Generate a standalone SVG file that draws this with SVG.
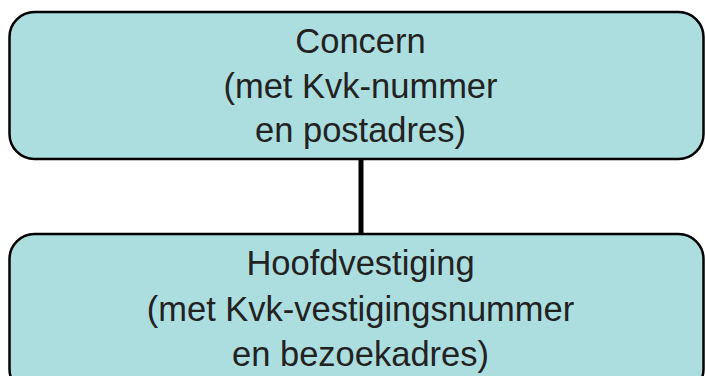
<svg xmlns="http://www.w3.org/2000/svg" width="705" height="376" viewBox="0 0 705 376">
<style>
.box{fill:#ADDEDF;stroke:#000;stroke-width:2.5}
.t{font-family:"Liberation Sans",Arial,sans-serif;font-size:34.5px;fill:#222;text-anchor:middle}
</style>
<rect width="705" height="376" fill="#fff"/>
<g id="connectors">
<line x1="361" y1="159" x2="361" y2="234" stroke="#000" stroke-width="5"/>
</g>
<g id="concern">
<rect class="box" x="9.5" y="12" width="694" height="147" rx="25"/>
<text class="t" x="360.5" y="53">Concern</text>
<text class="t" x="360.5" y="98">(met Kvk-nummer</text>
<text class="t" x="360.5" y="142">en postadres)</text>
</g>
<g id="hoofdvestiging">
<rect class="box" x="9.5" y="234" width="694" height="160" rx="25"/>
<text class="t" x="360.5" y="275">Hoofdvestiging</text>
<text class="t" x="360.5" y="321">(met Kvk-vestigingsnummer</text>
<text class="t" x="360.5" y="366">en bezoekadres)</text>
</g>
</svg>
